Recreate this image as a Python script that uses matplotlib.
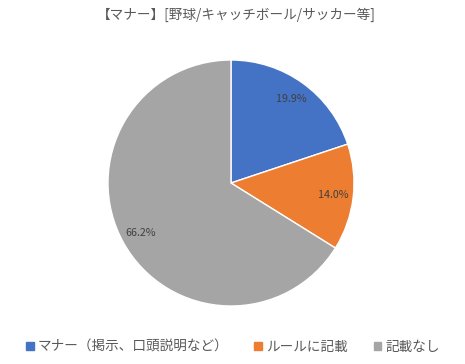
import matplotlib
matplotlib.use("Agg")
import matplotlib.pyplot as plt
from matplotlib.patches import Patch

plt.rcParams['font.family'] = ['Noto Sans CJK JP', 'DejaVu Sans']

title = "【マナー】[野球/キャッチボール/サッカー等]"
categories = ["マナー（掲示、口頭説明など）", "ルールに記載", "記載なし"]
values = [19.9, 14.0, 66.2]
colors = ["#4472C4", "#ED7D31", "#A5A5A5"]

fig = plt.figure(figsize=(4.65, 3.64), dpi=100)
ax = fig.add_axes([108/465, 58/364, 246/465, 246/364])
wedges, texts = ax.pie(values, colors=colors, startangle=90, counterclock=False,
                       labels=[f"{v:.1f}%" for v in values], labeldistance=0.84,
                       wedgeprops=dict(edgecolor="white", linewidth=1),
                       textprops=dict(fontsize=7.7, color="#404040", ha="center", va="center"))
for t in texts:
    t.set_ha("center")
ax.set_xlim(-1, 1)
ax.set_ylim(-1, 1)
ax.set_aspect("equal")

fig.text(236/465, 1 - 15/364, title, ha="center", va="center", fontsize=9.8, color="#595959")

handles = [Patch(facecolor=c, edgecolor=c) for c in colors]
fig.legend(handles, categories, loc="center", bbox_to_anchor=(233/465, 1 - 347/364),
           ncol=3, frameon=False, fontsize=9.8, handlelength=0.55, handleheight=0.55,
           handletextpad=0.3, columnspacing=1.9, labelcolor="#595959")

fig.savefig("out.png", dpi=100, facecolor="white")
